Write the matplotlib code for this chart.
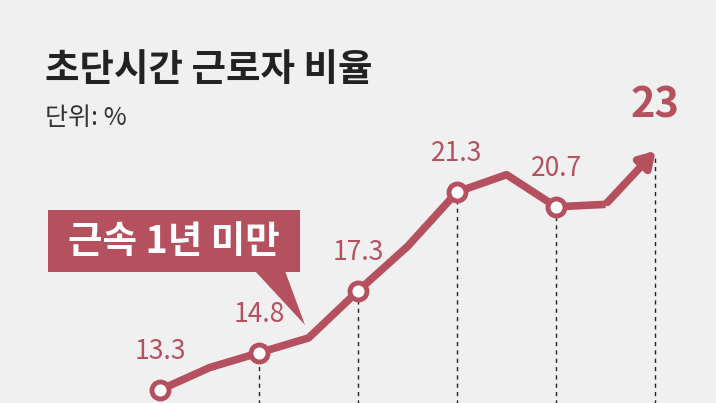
import matplotlib.pyplot as plt
from matplotlib.patches import Polygon, Rectangle

plt.rcParams['font.family'] = ['Noto Sans CJK KR', 'DejaVu Sans']

# values along the line (every other point is a labelled year)
values = [13.3, 14.2, 14.8, 15.4, 17.3, 19.1, 21.3, 22.0, 20.7, 20.8, 22.8]
labels = {0: '13.3', 2: '14.8', 4: '17.3', 6: '21.3', 8: '20.7'}
marked = [0, 2, 4, 6, 8]
dashed = [2, 4, 6, 8, 10]

col = '#b5505f'
bg = '#f0f0f0'

fig = plt.figure(figsize=(7.16, 4.03), dpi=100, facecolor=bg)
ax = fig.add_axes([0, 0, 1, 1], facecolor=bg)
ax.set_xlim(-3.232, 11.23)
ax.set_ylim(12.77, 29.06)
ax.axis('off')

xs = list(range(len(values)))
for i in dashed:
    ax.plot([i, i], [12.5, values[i]], color='#222222', lw=1, ls=(0, (3, 3)), zorder=1)
ax.plot(xs[:-1], values[:-1], color=col, lw=5.5, solid_capstyle='butt', zorder=2)
ax.annotate('', xy=(xs[-1] + 0.05, values[-1] + 0.25), xytext=(xs[-2], values[-2]),
            arrowprops=dict(arrowstyle='-|>,head_length=0.9,head_width=0.55', color=col, lw=5.5), zorder=2)
ax.scatter([xs[i] for i in marked], [values[i] for i in marked], s=150, facecolor='white',
           edgecolor=col, linewidth=3.5, zorder=3)
for i, t in labels.items():
    ax.text(i, values[i] + 1.55, t, color=col, fontsize=19, ha='center', va='center')
ax.text(10, 24.8, '23', color=col, fontsize=30, fontweight='bold', ha='center', va='center')

fig.text(45 / 716, 1 - 70 / 403, '초단시간 근로자 비율', fontsize=27, fontweight='bold',
         color='#222222', va='center')
fig.text(45 / 716, 1 - 118 / 403, '단위: %', fontsize=18, color='#333333', va='center')

# callout box
fig.patches.append(Rectangle((48 / 716, 1 - 272 / 403), 252 / 716, 62 / 403,
                             transform=fig.transFigure, facecolor=col, edgecolor='none'))
fig.patches.append(Polygon([(255 / 716, 1 - 271 / 403), (285 / 716, 1 - 271 / 403),
                            (305 / 716, 1 - 325 / 403)],
                           transform=fig.transFigure, facecolor=col, edgecolor='none'))
fig.text(174 / 716, 1 - 241 / 403, '근속 1년 미만', fontsize=27, fontweight='bold',
         color='white', ha='center', va='center')

fig.savefig('out.png', dpi=100, facecolor=bg)
